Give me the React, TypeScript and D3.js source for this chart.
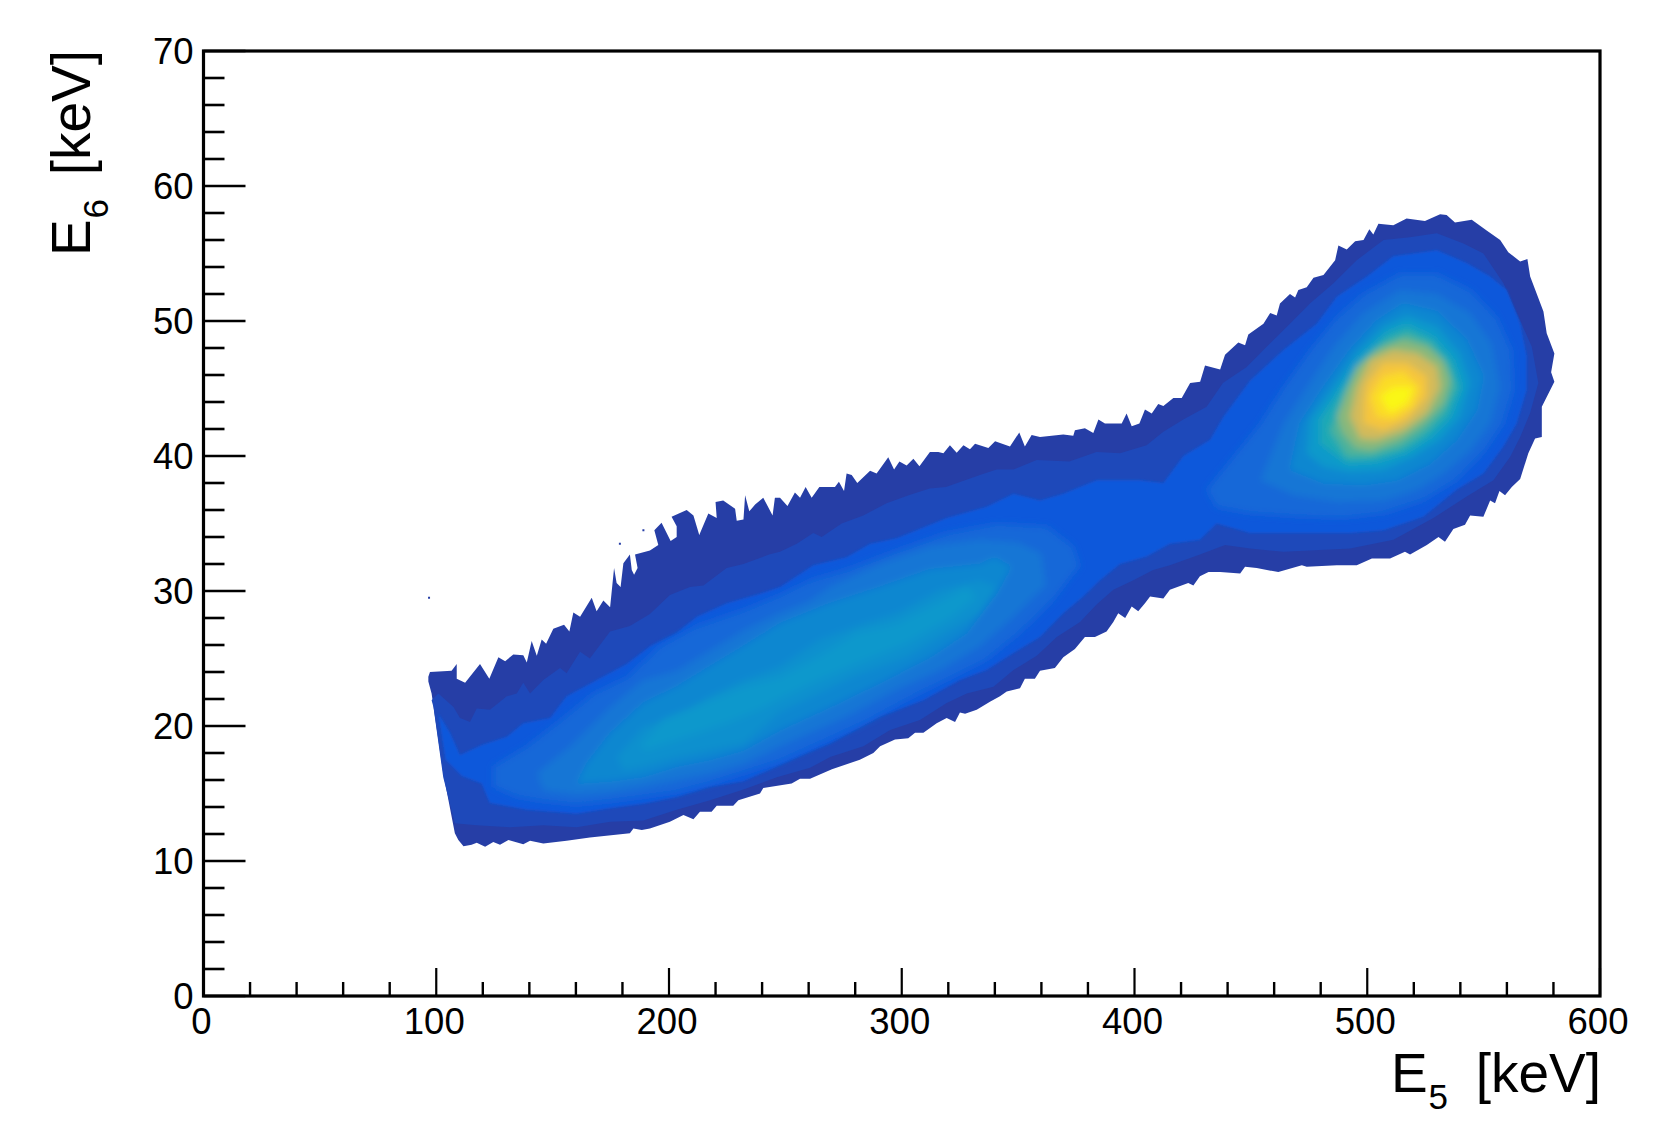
import React from "react";
import * as d3 from "d3";

type P = [number, number];

const xTicksMajor = [0, 100, 200, 300, 400, 500, 600];
const yTicksMajor = [0, 10, 20, 30, 40, 50, 60, 70];

// Outer outline of the populated region (E5, E6)
const outlineTop: P[] = [[96.6,23.65],[97.3,24],[106.6,24.1],[108.8,24.6],[108.8,23.5],[112.4,23.2],[118.8,24.6],[122.8,23.5],[126.7,25.1],[129.6,24.8],[133.1,25.3],[137.4,25.25],[138.9,24.7],[141,26.3],[143.2,25.2],[145.3,26.4],[147.2,26.1],[150.3,27.2],[154.9,27.5],[157.2,27],[158.9,28.4],[161.8,28.1],[166.8,29.5],[168.9,28.5],[171.8,29.3],[174.7,28.8],[176.4,31.7],[177.5,30.6],[179.2,30.3],[180.4,32.05],[183.2,32.7],[184,31.55],[185,31.2],[186.5,31.7],[185.4,32.7],[191.8,33],[195.4,33.4],[193.7,34.5],[196.8,35.06],[200.7,33.7],[203.3,34],[203.3,34.8],[201.1,35.5],[207.6,36],[210.5,35.6],[213,34.15],[216.9,35.75],[220.5,35.4],[220,36.6],[223.3,36.7],[228.4,36.1],[229.1,35.2],[232,35.3],[232.7,37.1],[234.5,35.9],[237,36.4],[240.5,36.9],[244.5,35.6],[245.5,36.9],[247.7,36.9],[250.9,36.3],[254.1,37.3],[256.3,36.9],[258.7,37.7],[261.3,36.9],[264.6,37.7],[271.3,37.7],[273,38.1],[275.2,37.4],[276.3,38.7],[278.5,38.6],[280.9,38],[286.4,38.9],[289.2,38.7],[294.2,39.9],[296.7,39],[299,39.6],[302.1,39.3],[305,39.8],[307.6,39.25],[312.1,40.3],[315.7,40.3],[317.9,40.2],[320.7,40.8],[323.6,40.25],[326.5,40.8],[329.3,40.5],[331.5,40.9],[337.2,40.6],[340.1,41.1],[346.5,40.7],[350.5,41.75],[352.9,40.7],[355.8,41.55],[359.4,41.4],[369.4,41.6],[373.7,41.5],[374.4,41.9],[378.7,42.05],[382.3,41.7],[384.5,42.7],[387.3,42.4],[394.5,42.4],[396.6,43.15],[398.8,42.2],[402.1,42.4],[404.5,43.45],[407.4,43.15],[410.2,43.85],[412.4,43.7],[416.7,44.3],[420.3,44.3],[423.9,45.4],[428.2,45.5],[430.3,46.7],[436.8,46.4],[438.9,47.5],[444.6,48.4],[447.5,48.2],[448.9,49],[455.4,49.8],[458.3,50.6],[461.1,50.4],[462.5,51.3],[466.8,52],[469,51.75],[470.4,52.3],[474,52.5],[476.9,53.2],[481.2,53.4],[486.2,54.5],[487.6,55.6],[491.2,55.3],[494.8,55.9],[498.4,56],[500.9,56.8],[502.6,56.4],[504.8,57.2],[511.2,57.1],[516.9,57.6],[524.8,57.4],[531.3,57.9],[534.1,57.85],[537.7,57.3],[544.9,57.5],[551.3,56.7],[557.1,56],[560.6,55.1],[565.7,54.4],[568.8,54.6],[570,53.3],[575.7,50.7],[577.1,49.1],[580.4,47.6]];
const outlineBottom: P[] = [[579,46.2],[580.4,45.5],[575,43.65],[575,41.4],[572.1,41.3],[569.2,40.2],[565.7,38.3],[562.1,37.7],[559.2,37.1],[556.8,37.4],[554.9,36.5],[552.8,36.7],[549.9,35.5],[544.2,35.6],[542,34.9],[537,34.6],[533.4,33.65],[530.6,34],[525.6,33.4],[518.4,32.7],[516.2,32.9],[509.8,32.4],[502,32.4],[495.5,31.9],[486.9,31.9],[474,31.8],[471.9,31.9],[461.8,31.4],[452.5,31.7],[447.5,31.8],[445.4,31.3],[436.8,31.4],[431.8,31.4],[428.1,31.1],[425.3,30.4],[423.1,30.6],[415.2,30.1],[412.4,29.45],[406.7,29.6],[404.5,29.1],[401.6,28.5],[398.8,28.85],[396,28],[393,28.35],[390.9,27.7],[388,27],[383,26.6],[378.7,26.6],[374.4,25.7],[369.4,25.1],[365.8,24.3],[359.4,24.1],[357.2,23.5],[352.9,23.5],[350.8,22.8],[345.1,22.55],[342.2,22.2],[337.9,21.8],[332.2,21.2],[327.2,20.9],[325,21],[322.9,20.3],[319.3,20.6],[315,20.2],[309.3,19.5],[305.7,19.5],[302.8,19.1],[297.1,19],[290.7,18.5],[287.8,18],[282,17.5],[270,16.8],[260.6,16.1],[256.3,16.1],[252.7,15.75],[240.5,15.4],[239.1,15],[229.8,14.5],[227.6,14.1],[220.5,14.1],[218.3,13.65],[213.3,13.65],[210.5,13.1],[206.2,13.4],[200.4,12.9],[191.8,12.4],[188.3,12.3],[184.7,12.4],[183.2,12.05],[166,11.75],[156,11.5],[146,11.3],[140.3,11.5],[137.4,11.25],[131,11.55],[127.4,11.2],[124.5,11.4],[121,11.06],[117.4,11.35],[115.2,11.2],[111.7,11.1],[109.5,11.55],[108,12.05],[103,16.5],[98,22.4],[96.6,23.3]];
const specks: P[] = [[96.9,29.5],[178.9,33.5],[189,34.5]];

const band2: P[] = [[98,21.9],[100.9,22.4],[107.4,21.4],[110.2,20.6],[114.5,20.3],[117.4,21.3],[123.1,21.2],[130.3,22.2],[134.6,22.4],[137.4,23.2],[140.3,22.4],[146,23.4],[153.2,24.3],[156,23.9],[161.8,25.5],[166,25],[174.7,27],[183.2,27.4],[191.8,28.3],[200.4,29.7],[209,30.3],[214.8,30.4],[224.8,31.7],[232,32],[243,32.7],[247.7,32.9],[254.9,33.5],[262,34.3],[265.6,34],[274.2,35],[283.5,35.6],[293.5,36.5],[303,37.1],[312,37.6],[319,37.7],[333.6,38.6],[340.8,39],[348,39],[358,39.7],[372,39.6],[383.7,40.3],[393.8,40.2],[405.2,40.8],[412.4,41.8],[421,42.7],[431,43.65],[438,45.4],[448.2,46.6],[456.8,48.1],[466.8,49.8],[475.4,51.3],[485.5,52.8],[495.5,54.5],[507,56],[518.4,56.2],[529.9,56.5],[541.3,55.75],[549.9,55],[558.5,52.8],[564.2,50.6],[570.7,48.1],[573.5,45.4],[570,43.2],[565.7,41.4],[561.4,39.95],[554.2,38.2],[542.7,37],[528.4,35.4],[511.2,33.8],[492.6,33.15],[464,32.9],[449.7,33.15],[438.9,33.4],[428.1,32.7],[415.2,31.9],[408,31.55],[399.5,30.8],[390.9,30.1],[383.7,29],[376.6,27.7],[366.6,26.6],[358,25.2],[348,24.15],[339.4,22.9],[327.9,22.4],[319.3,21.7],[307.8,20.45],[295,19.7],[283.5,18.5],[269.2,17.7],[260.6,16.9],[246.3,16.2],[232,15.3],[217.6,14.5],[203.3,13.8],[189,13],[174.7,12.9],[160.3,12.5],[146,12.65],[131.7,12.5],[117.4,12.65],[108,12.8],[103,16.2],[98.8,21.4]];
const band3: P[] = [[100.9,20.9],[105.9,19.5],[110.2,17.85],[119.5,18.6],[130.3,19.2],[137.4,20.2],[148.9,20.6],[156,22.2],[169,23.4],[181.8,24.6],[191.8,25.9],[203.3,26.9],[211.9,28.1],[224.8,29.1],[239,29.8],[247.7,30.3],[262,31.9],[276.3,32.5],[286.4,33.5],[297.8,33.9],[319.3,35.4],[336.5,36.25],[348,37.2],[359.4,36.7],[369.4,37.2],[383.7,38.2],[402.4,38.2],[412.4,38],[421,40],[432.5,41.2],[438.2,42.9],[449.7,45.6],[464,47.85],[478.3,49.8],[486.9,51.8],[499.8,53.3],[511.2,54.8],[529.9,55.25],[542.7,54.3],[552.8,53.3],[559.9,52.3],[565.7,49.8],[568.5,47.4],[568.5,44.9],[564.2,42.4],[558.5,40.7],[549.9,38.7],[538.4,37.5],[524.1,35.5],[507,34.5],[492.6,34.3],[449.7,34.3],[435.3,35],[428.1,33.8],[415.2,33.5],[405.2,32.55],[393.8,32],[385.2,30.8],[378,29.6],[369.4,28.35],[359.4,26.6],[348,25.4],[336.5,24.15],[325,23.4],[309.3,21.9],[290.7,20.7],[269.2,18.7],[260.6,18.1],[246.3,17],[232,15.9],[217.6,15.5],[203.3,14.75],[189,14.25],[174.7,13.9],[160.3,13.5],[138.9,13.8],[123,14.3],[119.5,15.75],[111,16.3],[104,17.5]];

const band4Left: P[] = [[124.5,17],[138.9,18.5],[153.2,20.4],[167.5,22.4],[181.8,23.6],[196.1,25.9],[211.9,27.4],[232,28.6],[246.3,29.6],[260.6,30.8],[276.3,31.6],[297.8,33],[319.3,34.3],[340.8,35],[362.3,34.8],[373.7,33.3],[376.6,31.8],[373.7,31.3],[365,29.3],[350.8,26.9],[336.5,24.9],[322.2,23.65],[305,22.2],[283.5,20.2],[262,18.5],[246.3,17.3],[232,16.5],[217.6,15.75],[203.3,15.1],[189,14.75],[174.7,14.4],[160.3,14.15],[146,14.4],[134.6,14.75],[124.5,15.5]];
const band4Right: P[] = [[431,37.5],[442.5,39.95],[454,42.4],[464,45.1],[475.4,47.85],[486.9,50.3],[498.3,52],[514.1,53.5],[529.9,53.5],[544.2,52.3],[555.6,50.3],[562,47.85],[562.8,44.9],[558.5,42.4],[549.9,40.2],[538.4,38.2],[524.1,36.7],[507,35.75],[489.8,35.4],[471.1,35.5],[449.7,35.75],[435.3,36.2]];
const band5Left: P[] = [[143.2,16.5],[157.5,18.5],[174.7,21.4],[189,23.4],[203.3,24.1],[217.6,25.6],[232,27.1],[246.3,28.3],[260.6,29.3],[269,30.3],[290.7,32],[312.1,33.3],[333.6,33.8],[350,33.6],[360,32.8],[362,30.4],[355,29.3],[348,28.1],[333.6,25.9],[316.4,24.15],[297.8,22.7],[276.3,20.7],[247.7,18.5],[232,17.2],[217.6,16.5],[203.3,16],[189,15.5],[174.7,15.1],[160.3,14.9],[146,15.25]];
const band5Right: P[] = [[454,38.2],[464,42.4],[474,45.1],[485.5,48.1],[498.3,50.6],[514.1,52.3],[529.9,52],[544.2,50.6],[553.5,48.3],[557,45.1],[552.8,42.4],[544.2,40.4],[532.7,38.7],[521.3,37.5],[507,36.7],[486.9,36.6],[468.3,37.1]];
const band6Left: P[] = [[164.6,17.2],[174.7,19.45],[189,21.7],[203.3,22.9],[217.6,24.4],[232,25.9],[247.7,27.6],[269.2,29.1],[290.7,30.3],[312.1,31.6],[333.6,32],[340,32.5],[347,31.8],[341,29.9],[327.9,26.9],[312.1,25.1],[290.7,23.2],[269.2,21.4],[247.7,19.7],[232,18.2],[217.6,17.5],[203.3,17],[189,16.25],[174.7,15.9],[160.3,15.75]];
const band6Right: P[] = [[466.8,39],[471.1,42.4],[481.2,45.1],[492.6,47.85],[504,50],[515.5,51.3],[529.9,50.7],[542.7,48.6],[549.9,45.9],[547,43.4],[538.4,41.2],[527,39.45],[512.7,38.2],[498.3,37.85],[481.2,38]];
const band7Left: P[] = [[177.5,17.7],[189,19.95],[203.3,20.7],[217.6,22.2],[232,23.4],[247.7,24.4],[264.9,26.4],[280.6,27.4],[297.8,28.35],[316.4,30.1],[333.6,30.8],[340.8,30.3],[333.6,28.35],[319.3,26.9],[302.1,25.1],[279.2,23.65],[262,22.2],[247.7,21],[232,18.7],[217.6,18.2],[203.3,17.7],[189,17],[180.4,16.75]];
const band7Right: P[] = [[474,40.2],[475.4,42.7],[485.5,45.1],[495.5,47.6],[507,49.6],[517,50.4],[529.9,49.6],[539.9,47.6],[544.2,45.4],[539.9,42.9],[531.3,41.2],[519.8,39.95],[507,38.96],[492.6,38.8],[481.2,39.2]];
const ridgeLeft: P[] = [[187.5,18.5],[197.6,20.5],[214.8,21.7],[232,22.9],[247.7,23.65],[263.5,25.1],[280.6,26.9],[297.8,27.6],[327.9,30.3],[332,29.5],[322,28.1],[302,26.1],[280.6,24.6],[262,23.2],[247.7,22],[239,21.2],[224.8,20.2],[203.3,18.95],[190.4,18.2]];
const band8: P[] = [[479.7,40.9],[479.7,42.7],[488.3,44.9],[498.3,47.35],[508.4,49.1],[517,49.7],[528.4,48.8],[537,47.1],[540.6,45.1],[535.6,42.9],[527,41.4],[517,40.3],[504,39.6],[491.2,39.45]];
const band9: P[] = [[484,41.9],[491.2,44.4],[498.3,46.6],[507,48.35],[517,49.1],[527,48.35],[534.9,46.6],[537.7,45.1],[532.7,43.2],[524.1,41.7],[514.1,40.6],[501.2,39.95],[491.2,39.95]];
const band10: P[] = [[487,43],[491.2,44.9],[495.5,46.6],[504,47.85],[515.5,48.6],[525.6,48.1],[532.7,47.1],[535.6,45.6],[532.7,43.9],[524.1,42.4],[514.1,41.2],[502,40.4],[495,40.6],[489.5,41.7]];
const band11: P[] = [[492.6,42.9],[495.5,45.1],[501.2,47.1],[511.2,47.85],[521.3,47.6],[529.9,46.6],[531.3,45.1],[525.6,43.2],[515.5,41.9],[504,41.2],[497,41.3]];
const band12: P[] = [[498.4,43.9],[499.8,45.4],[506.9,46.9],[517,46.9],[525.6,45.9],[525.6,44.4],[517,42.7],[506.9,41.9],[498.4,42.4]];
const band13: P[] = [[501.2,44.4],[506.9,45.9],[515.5,46.25],[522.7,45.1],[519.8,43.65],[511.2,42.7],[504,42.9]];
const band14: P[] = [[505.5,44.4],[511.2,45.1],[519.8,45.1],[517,43.9],[509.8,43.2]];

const sharpBands: { pts: P[]; color: string }[] = [
  { pts: [...outlineTop, ...outlineBottom], color: "#263EA6" },
  { pts: band2, color: "#1E49BA" },
  { pts: band3, color: "#1158DB" },
];
const softBands: { pts: P[]; color: string }[] = [
  { pts: band4Left, color: "#1267D8" },
  { pts: band4Right, color: "#1267D8" },
  { pts: band5Left, color: "#1276D5" },
  { pts: band5Right, color: "#1276D5" },
  { pts: band6Left, color: "#1187D0" },
  { pts: band6Right, color: "#1187D0" },
  { pts: band7Left, color: "#0C90CE" },
  { pts: band7Right, color: "#0C99CB" },
  { pts: ridgeLeft, color: "#0C98CC" },
  { pts: band8, color: "#1FA9B5" },
  { pts: band9, color: "#4DB29A" },
  { pts: band10, color: "#8AB87A" },
  { pts: band11, color: "#D3BA5A" },
  { pts: band12, color: "#F5C53E" },
  { pts: band13, color: "#FBDC28" },
  { pts: band14, color: "#FAF714" },
];

const FONT = "'Liberation Sans', Arial, sans-serif";
const left = 203.5, right = 1600, top = 51, bottom = 996;

export default function App() {
  const x = d3.scaleLinear().domain([0, 600]).range([left, right]);
  const y = d3.scaleLinear().domain([0, 70]).range([bottom, top]);
  const line = d3.line<P>().x((d) => x(d[0])).y((d) => y(d[1])).curve(d3.curveLinearClosed);
  const xMinor = d3.range(0, 601, 20).filter((v) => v % 100 !== 0);
  const yMinor = d3.range(0, 71, 2).filter((v) => v % 10 !== 0);
  return (
    <svg width={1659} height={1143} style={{ position: "absolute", left: 0, top: 0, background: "#fff" }} fontFamily={FONT}>
      <defs>
        <filter id="soft" x="-20%" y="-20%" width="140%" height="140%"><feGaussianBlur stdDeviation="3.6" /></filter>
        <filter id="soft1" x="-5%" y="-5%" width="110%" height="110%"><feGaussianBlur stdDeviation="0.8" /></filter>
      </defs>
      {sharpBands.map((b, i) => <path key={i} d={line(b.pts) ?? ""} fill={b.color} filter={i === 2 ? "url(#soft1)" : undefined} />)}
      <g filter="url(#soft)">
        {softBands.map((b, i) => <path key={i} d={line(b.pts) ?? ""} fill={b.color} />)}
      </g>
      {specks.map((s, i) => <rect key={i} x={x(s[0]) - 1} y={y(s[1]) - 1} width={2} height={2} fill="#263EA6" />)}

      <rect x={left} y={top} width={right - left} height={bottom - top} fill="none" stroke="#000" strokeWidth={3.2} />
      {xMinor.map((v) => <line key={v} x1={x(v)} x2={x(v)} y1={bottom} y2={bottom - 14} stroke="#000" strokeWidth={2.4} />)}
      {xTicksMajor.map((v) => <line key={v} x1={x(v)} x2={x(v)} y1={bottom} y2={bottom - 28} stroke="#000" strokeWidth={2.2} />)}
      {yMinor.map((v) => <line key={v} x1={left} x2={left + 21} y1={y(v)} y2={y(v)} stroke="#000" strokeWidth={2.6} />)}
      {yTicksMajor.map((v) => <line key={v} x1={left} x2={left + 42} y1={y(v)} y2={y(v)} stroke="#000" strokeWidth={2.4} />)}
      {xTicksMajor.map((v) => <text key={v} x={x(v) - 2} y={1034} fontSize={36.5} textAnchor="middle" fill="#000">{v}</text>)}
      {yTicksMajor.map((v) => <text key={v} x={193.5} y={y(v) + 13} fontSize={36.5} textAnchor="end" fill="#000">{v}</text>)}

      <text x={1391} y={1092} fontSize={55}>E</text>
      <text x={1428.5} y={1109} fontSize={35}>5</text>
      <text x={1601} y={1092} fontSize={55} textAnchor="end">[keV]</text>

      <g transform="translate(90,256) rotate(-90)">
        <text x={0} y={0} fontSize={55}>E</text>
        <text x={37.5} y={18} fontSize={35}>6</text>
        <text x={206} y={0} fontSize={55} textAnchor="end">[keV]</text>
      </g>
    </svg>
  );
}
